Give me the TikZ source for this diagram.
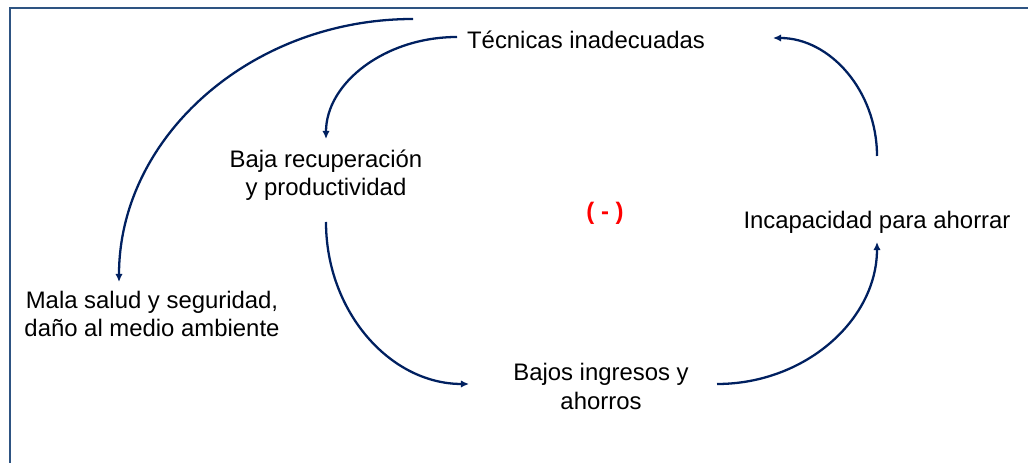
\documentclass[tikz,border=0pt]{standalone}
\usepackage{fontspec}
\setmainfont{Liberation Sans}
\usetikzlibrary{arrows.meta}
\definecolor{navy}{HTML}{002060}
\definecolor{frame}{HTML}{2E5482}
\definecolor{minusred}{HTML}{FF0000}
\begin{document}
\begin{tikzpicture}[x=0.02cm,y=0.02cm,
  lbl/.style={inner sep=0pt,align=center,font=\fontsize{13.6}{16}\selectfont},
  conn/.style={draw=navy,line width=1.3pt,-{Latex[length=4.6pt,width=4.2pt]}}]
\clip (0,0) rectangle (1028,463);
\draw[frame,line width=1.2pt] (10,455) rectangle (1060,-20);
% text nodes
\node[lbl] (tec) at (586,423) {Técnicas inadecuadas};
\node[lbl] (baja) at (326,287.5) {Baja recuperación\\y productividad};
\node[lbl] (mala) at (152,149) {Mala salud y seguridad,\\daño al medio ambiente};
\node[lbl] (bajos) at (601,76.5) {Bajos ingresos y\\ahorros};
\node[lbl] (incap) at (877,241) {Incapacidad para ahorrar};
\node[lbl,text=minusred,font=\fontsize{13.6}{16}\selectfont\bfseries] (minus) at (605,250) {( - )};
% connector end points
\coordinate (a1s) at (413,444);
\coordinate (a1e) at (119,181);
\coordinate (a2s) at (457,426);
\coordinate (a2e) at (326,324);
\coordinate (a3s) at (326,241);
\coordinate (a3e) at (469,79);
\coordinate (a4s) at (717,79);
\coordinate (a4e) at (877,221);
\coordinate (a5s) at (877,307);
\coordinate (a5e) at (773,425);
% connectors
\draw[conn] (a1s) .. controls +(-162,0) and +(0,145) .. (a1e);
\draw[conn] (a2s) .. controls +(-72,0) and +(0,56) .. (a2e);
\draw[conn] (a3s) .. controls +(0,-89.5) and +(-79,0) .. (a3e);
\draw[conn] (a4s) .. controls +(88,0) and +(0,-78) .. (a4e);
\draw[conn] (a5s) .. controls +(0,65) and +(57,0) .. (a5e);
\end{tikzpicture}
\end{document}
